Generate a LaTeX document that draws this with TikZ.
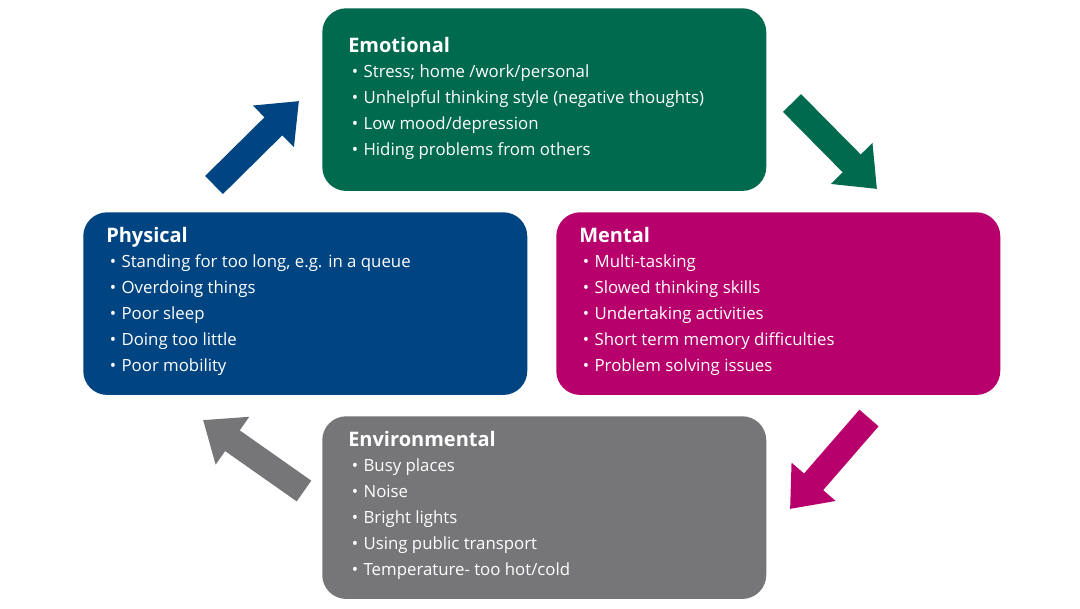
\documentclass[tikz,border=0pt]{standalone}
\usepackage{fontspec}
\setmainfont{Open Sans}
\usetikzlibrary{arrows.meta}
\definecolor{emogreen}{RGB}{0,106,78}
\definecolor{phyblue}{RGB}{0,69,130}
\definecolor{menpink}{RGB}{183,0,107}
\definecolor{envgrey}{RGB}{118,118,120}
\tikzset{
  box/.style={draw=none, rounded corners=18pt, minimum width=333pt, minimum height=137pt, anchor=north west},
  boxtext/.style={anchor=north west, text=white, align=left, font=\fontsize{12.6}{19.5}\selectfont, inner sep=0pt},
  bigarrow/.style={line width=19pt, -{Triangle[length=27pt, width=42pt]}},
}
\newcommand{\boxtitle}[1]{{\fontsize{15}{19.5}\selectfont\bfseries #1}\\[-1pt]}
\newcommand{\itm}[1]{\hspace*{13.5pt}\llap{\textbullet\hspace{6pt}}\hspace{-2pt}#1\\}
\begin{document}
\begin{tikzpicture}[x=0.75pt,y=-0.75pt]
\useasboundingbox[fill=white] (0,0) rectangle (1080,608);

% boxes
\node[box, fill=emogreen] (emo) at (322,8) {};
\node[box, fill=phyblue] (phy) at (83,212) {};
\node[box, fill=menpink] (men) at (556,212) {};
\node[box, fill=envgrey] (env) at (322,416) {};

% box texts
\node[boxtext] (emotxt) at (348,37) {\boxtitle{Emotional}\itm{Stress; home /work/personal}\itm{Unhelpful thinking style (negative thoughts)}\itm{Low mood/depression}\itm{Hiding problems from others}};
\node[boxtext] (phytxt) at (106,227) {\boxtitle{Physical}\itm{Standing for too long, e.g. in a queue}\itm{Overdoing things}\itm{Poor sleep}\itm{Doing too little}\itm{Poor mobility}};
\node[boxtext] (mentxt) at (579,227) {\boxtitle{Mental}\itm{Multi-tasking}\itm{Slowed thinking skills}\itm{Undertaking activities}\itm{Short term memory difficulties}\itm{Problem solving issues}};
\node[boxtext] (envtxt) at (348,431) {\boxtitle{Environmental}\itm{Busy places}\itm{Noise}\itm{Bright lights}\itm{Using public transport}\itm{Temperature- too hot/cold}};

% arrows
\coordinate (a1s) at (214,185);
\coordinate (a1e) at (299,101);
\coordinate (a2s) at (792,103);
\coordinate (a2e) at (877,189);
\coordinate (a3s) at (869,418);
\coordinate (a3e) at (790,509);
\coordinate (a4s) at (304,491);
\coordinate (a4e) at (203,420);
\draw[bigarrow, phyblue] (a1s) -- (a1e);
\draw[bigarrow, emogreen] (a2s) -- (a2e);
\draw[bigarrow, menpink] (a3s) -- (a3e);
\draw[bigarrow, envgrey] (a4s) -- (a4e);
\end{tikzpicture}
\end{document}
